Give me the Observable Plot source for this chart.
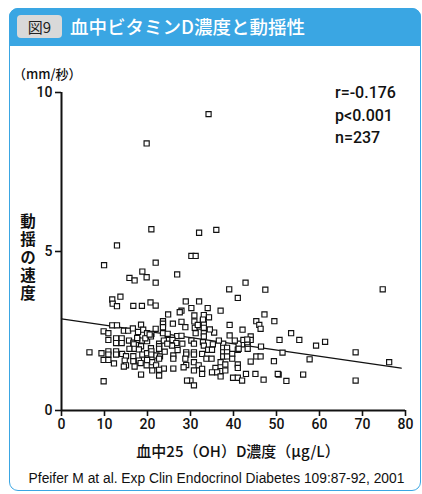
<!DOCTYPE html>
<html><head><meta charset="utf-8">
<script src="https://cdn.jsdelivr.net/npm/d3@7"></script>
<script src="https://cdn.jsdelivr.net/npm/@observablehq/plot@0.6"></script>
<style>
body{margin:0;width:422px;height:494px;position:relative;overflow:hidden;background:#fff;font-family:"Liberation Sans",Arial,sans-serif;color:#111}
.card{position:absolute;left:9px;top:8px;width:412px;height:483px;border:1.5px solid #3aa6e3;border-radius:9px;box-sizing:border-box}
.header{position:absolute;left:9px;top:8px;width:412px;height:38px;background:#3aa6e3;border-radius:9px 9px 0 0}
.badge{position:absolute;left:17px;top:15px;width:45px;height:23px;background:#d9d9d9;border-radius:4px;font-family:"Noto Sans CJK JP";font-size:15px;line-height:23px;text-align:center;color:#222}
.title{position:absolute;left:70px;top:13px;font-family:"Noto Sans CJK JP";font-size:18.5px;line-height:26px;color:#fff;font-weight:500;white-space:nowrap}
.unit{position:absolute;left:13px;top:65px;font-family:"Noto Sans CJK JP";font-size:13px;line-height:18px;font-weight:500;white-space:nowrap}
.ylab{position:absolute;left:18px;top:213px;writing-mode:vertical-rl;text-orientation:upright;font-family:"Noto Sans CJK JP";font-size:15.5px;line-height:20px;letter-spacing:2.5px;font-weight:700;white-space:nowrap}
.stats{position:absolute;left:335px;top:82px;font-family:Roboto,"Liberation Sans",sans-serif;font-size:16px;line-height:22.5px;font-weight:500;white-space:nowrap}
.xlab{position:absolute;left:0;width:476px;top:439px;text-align:center;font-family:"Noto Sans CJK JP";font-size:15px;line-height:24px;font-weight:500;white-space:nowrap}
.cap{position:absolute;left:0;width:433px;top:470px;text-align:center;font-size:13.8px;line-height:18px;white-space:nowrap}
#chart{position:absolute;left:0;top:0}
</style></head>
<body>
<div class="card"></div>
<div class="header"></div>
<div class="badge">図9</div>
<div class="title">血中ビタミンD濃度と動揺性</div>
<div id="chart"></div>
<div class="unit">（mm/秒）</div>
<div class="ylab">動揺の速度</div>
<div class="stats">r=-0.176<br>p&lt;0.001<br>n=237</div>
<div class="xlab">血中25（OH）D濃度（μg/L）</div>
<div class="cap">Pfeifer M at al. Exp Clin Endocrinol Diabetes 109:87-92, 2001</div>
<script>
const xs = [34.2,19.8,20.9,32.0,36.0,12.9,9.9,21.9,18.8,15.8,17.0,19.8,21.9,26.9,30.2,31.2,42.8,39.0,47.4,41.0,
28.9,32.0,30.2,34.0,37.0,27.9,11.8,11.9,13.7,12.9,16.7,18.7,20.7,21.9,
74.7,49.5,53.4,50.7,55.3,59.2,61.3,68.4,51.4,49.4,57.7,76.2,50.5,52.3,56.2,68.4,
24.8,27.5,23.6,23.6,25.9,11.8,12.9,18.5,9.8,10.9,14.5,15.5,16.6,17.8,19.0,19.9,20.9,21.9,23.6,24.7,26.9,
10.9,12.7,14.0,12.7,14.0,15.7,16.7,17.7,18.8,19.9,20.8,22.7,24.7,25.8,26.7,16.8,18.5,15.8,17.0,18.0,20.8,22.7,22.7,25.7,
6.5,9.3,10.9,10.9,12.7,12.7,14.1,15.0,16.7,18.8,19.9,20.9,20.9,22.1,22.9,26.0,
9.8,10.9,14.7,16.7,18.0,19.9,21.1,22.7,15.0,17.0,18.4,19.8,22.0,23.8,26.0,22.7,18.5,22.7,9.8,
47.2,30.9,33.1,34.3,27.9,30.9,32.9,45.3,28.8,31.0,32.1,33.1,33.1,39.1,46.0,46.3,27.9,31.2,33.1,33.1,39.1,42.1,44.0,
30.2,30.8,32.9,33.1,35.2,37.6,37.6,37.6,37.6,38.5,38.5,38.5,41.0,42.0,43.3,43.3,44.0,29.0,29.0,30.8,30.8,34.1,35.0,32.7,39.7,46.4,
29.0,30.8,31.9,33.7,34.9,35.8,37.0,37.0,38.1,39.7,41.0,41.0,44.0,45.3,46.3,32.7,32.7,35.0,36.2,37.0,38.1,39.9,41.0,42.0,42.9,45.1,47.0,50.3,30.0,30.8,
32.9,41.2,43.2,42.3,41.2,43.2,17.6,19.5,20.5,23.8,23.6,31.7,24.6,28.1,26.0,28.8,28.4,30.8,29.2,12.2,14.5,21.1,35.5,36.6,40.3,34.5,27.0,24.0];
const ys = [9.32,8.40,5.70,5.59,5.68,5.19,4.57,4.65,4.37,4.17,4.09,4.19,4.02,4.28,4.86,4.86,4.02,3.81,3.80,3.54,
3.43,3.43,3.22,3.22,3.14,3.14,3.49,3.36,3.58,3.28,3.29,3.29,3.40,3.30,
3.81,2.81,2.43,2.22,2.22,2.04,2.16,1.83,1.82,1.55,1.61,1.52,1.13,0.93,1.13,0.94,
3.02,3.09,2.81,2.73,2.73,2.68,2.68,2.70,2.49,2.43,2.51,2.51,2.58,2.47,2.54,2.43,2.41,2.57,2.43,2.41,2.34,
2.22,2.27,2.27,2.12,2.12,2.20,2.13,2.22,2.20,2.18,2.33,2.10,2.22,2.22,2.12,2.08,2.02,1.94,1.94,1.92,1.96,2.02,1.94,2.04,
1.83,1.80,1.86,1.76,1.86,1.76,1.78,1.71,1.71,1.76,1.80,1.86,1.76,1.73,1.70,1.73,
1.59,1.59,1.57,1.55,1.57,1.59,1.52,1.63,1.42,1.38,1.49,1.42,1.42,1.32,1.32,1.28,1.13,1.10,0.92,
3.02,2.99,3.00,2.93,2.79,2.80,2.81,2.81,2.62,2.60,2.64,2.73,2.60,2.69,2.69,2.57,2.35,2.43,2.43,2.33,2.36,2.54,2.33,
2.20,2.10,2.15,2.04,2.08,2.10,1.97,1.83,1.70,1.97,1.83,1.70,1.91,2.08,1.94,2.10,2.22,1.83,1.76,1.83,1.76,1.91,1.91,1.78,1.78,2.01,
1.43,1.52,1.42,1.63,1.63,1.34,1.52,1.24,1.45,1.63,1.45,1.34,1.54,1.70,1.70,1.31,1.15,1.20,1.20,1.07,1.26,1.03,1.03,0.94,1.15,1.15,0.97,1.15,0.94,0.79,
2.86,2.10,2.15,2.22,1.94,2.23,2.28,2.27,2.39,2.20,2.62,2.69,2.10,2.10,1.63,1.63,1.36,1.26,0.94,1.48,1.38,1.26,2.45,2.20,2.20,2.55,1.90,1.85];
const fitX = [0, 79];
const fitY = [2.88, 1.33];
const xTicks = [0,10,20,30,40,50,60,70,80];
const yTicks = [0,5,10];

const points = xs.map((x,i)=>({x, y: ys[i]}));
const fit = fitX.map((x,i)=>({x, y: fitY[i]}));

const chart = Plot.plot({
  width:422, height:494,
  marginLeft:61, marginRight:17, marginTop:92, marginBottom:84,
  x:{domain:[0,80]}, y:{domain:[0,10]},
  style:{fontFamily:"Roboto, Liberation Sans, Arial, sans-serif", fontSize:"14px", fontWeight:500, color:"#111", background:"transparent", overflow:"visible"},
  marks:[
    Plot.axisX({ticks:xTicks, tickSize:6, tickPadding:3, label:null, strokeWidth:1.6, fontSize:14}),
    Plot.axisY({ticks:yTicks, tickSize:6, tickPadding:3, label:null, strokeWidth:1.6, fontSize:14}),
    Plot.ruleX([0], {stroke:"#111", strokeWidth:2}),
    Plot.ruleY([0], {stroke:"#111", strokeWidth:2}),
    Plot.line(fit, {x:"x", y:"y", stroke:"#111", strokeWidth:1.3}),
    Plot.dot(points, {x:"x", y:"y", symbol:"square", r:2.9, fill:"white", stroke:"#111", strokeWidth:1.15})
  ]
});
document.getElementById("chart").appendChild(chart);
</script>
</body></html>
